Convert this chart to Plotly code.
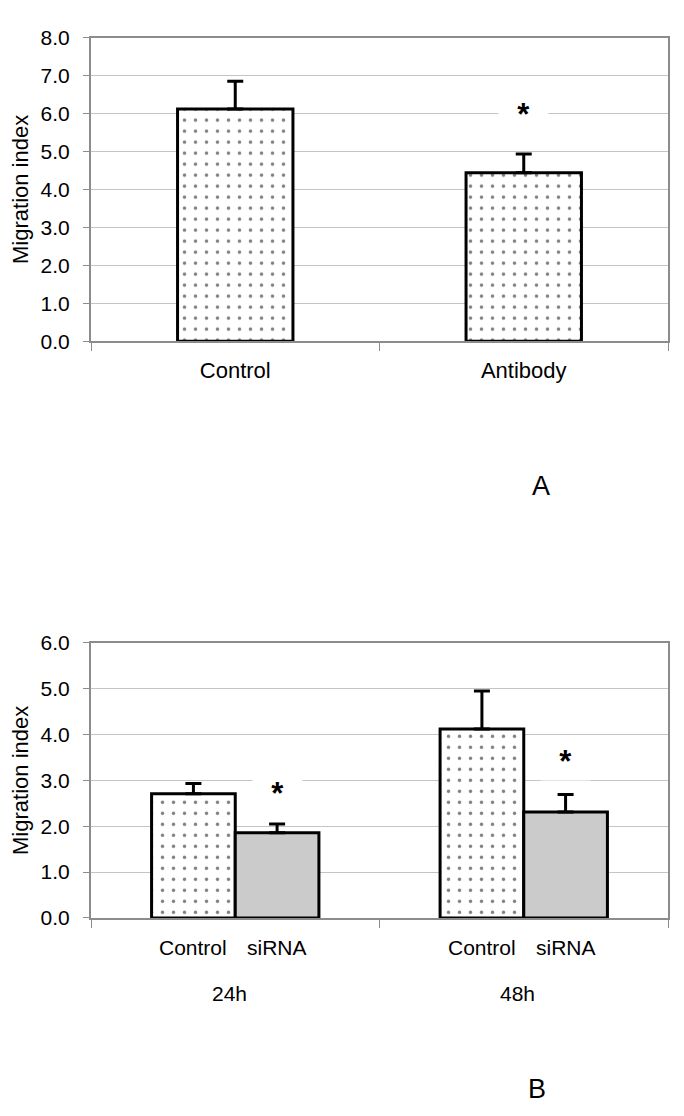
import plotly.graph_objects as go

# panel A
cats_a = ["Control", "Antibody"]
vals_a = [6.12, 4.44]
err_a = [0.73, 0.49]
star_a = [None, 6.06]

# panel B
groups_b = ["24h", "48h"]
ctrl_b = [2.71, 4.12]
ctrl_err_b = [0.22, 0.83]
sirna_b = [1.86, 2.31]
sirna_err_b = [0.19, 0.38]
star_b = [2.79, 3.47]
bar_labels_b = ["Control", "siRNA"]

FONT = "Liberation Sans, Arial, sans-serif"
OFF = 8  # default page margin of the html body
W, H = 684 - OFF, 1116 - OFF
L, R = 91 - OFF, 684 - 668

dots = dict(shape=".", size=11, solidity=0.08, fgcolor="black", bgcolor="white", fillmode="overlay")


def ydom(top_px, bot_px):
    # pixel rows of the reference window -> paper fractions
    return [(H - (bot_px - OFF)) / H, (H - (top_px - OFF)) / H]


def px_paper(xp, yp):
    return (xp - 91) / (668 - 91), (H - (yp - OFF)) / H


fig = go.Figure()

fig.add_trace(go.Bar(
    x=cats_a, y=vals_a, width=0.4,
    marker=dict(color="white", pattern=dots, line=dict(color="black", width=3)),
    error_y=dict(type="data", array=err_a, arrayminus=[0, 0], symmetric=False,
                 color="black", thickness=3, width=8),
    xaxis="x", yaxis="y", showlegend=False,
))

fig.add_trace(go.Bar(
    x=groups_b, y=ctrl_b, name="Control",
    marker=dict(color="white", pattern=dots, line=dict(color="black", width=3)),
    error_y=dict(type="data", array=ctrl_err_b, arrayminus=[0, 0], symmetric=False,
                 color="black", thickness=3, width=8),
    xaxis="x2", yaxis="y2", showlegend=False, offsetgroup="c",
))
fig.add_trace(go.Bar(
    x=groups_b, y=sirna_b, name="siRNA",
    marker=dict(color="#cbcbcb", line=dict(color="black", width=3)),
    error_y=dict(type="data", array=sirna_err_b, arrayminus=[0, 0], symmetric=False,
                 color="black", thickness=3, width=8),
    xaxis="x2", yaxis="y2", showlegend=False, offsetgroup="s",
))

axis_common = dict(showline=True, linecolor="#8c8c8c", linewidth=2, mirror=True)
yax_common = dict(
    tickformat=".1f", dtick=1, ticks="outside", ticklen=6, tickcolor="#8c8c8c",
    showgrid=True, gridcolor="#c4c4c4", gridwidth=1, zeroline=False,
    tickfont=dict(family=FONT, size=21, color="black"), ticklabelstandoff=9,
    title=dict(text="Migration index", font=dict(family=FONT, size=22, color="black"), standoff=10),
    **axis_common,
)
xax_common = dict(
    type="category", tickson="boundaries", ticks="outside", ticklen=8, tickcolor="#8c8c8c",
    showgrid=False, tickfont=dict(family=FONT, size=22, color="black"),
    **axis_common,
)

fig.update_layout(
    width=W, height=H,
    margin=dict(l=L, r=R, t=0, b=0),
    paper_bgcolor="white", plot_bgcolor="white",
    barmode="group", bargap=0.42, bargroupgap=0,
    xaxis=dict(domain=[0, 1], anchor="y", ticklabelstandoff=8, **xax_common),
    yaxis=dict(domain=ydom(26, 336), anchor="x", range=[0, 8], **yax_common),
    xaxis2=dict(domain=[0, 1], anchor="y2", showticklabels=False, **xax_common),
    yaxis2=dict(domain=ydom(644, 925), anchor="x2", range=[0, 6], **yax_common),
    font=dict(family=FONT, color="black"),
)

star_txt = "<b>\u00a0\u00a0*\u00a0\u00a0</b>"
for c, s in zip(cats_a, star_a):
    if s is not None:
        fig.add_annotation(x=c, y=s, xref="x", yref="y", text=star_txt, showarrow=False,
                           bgcolor="white", font=dict(family=FONT, size=31), yshift=-3)
for g, s in zip(groups_b, star_b):
    fig.add_annotation(x=g, y=s, xref="x2", yref="y2", text=star_txt, showarrow=False,
                       bgcolor="white", font=dict(family=FONT, size=31), xshift=42, yshift=-3)

for g in groups_b:
    for lab, dx in zip(bar_labels_b, [-42, 42]):
        fig.add_annotation(x=g, y=0, xref="x2", yref="y2", text=lab, showarrow=False,
                           font=dict(family=FONT, size=21), xshift=dx, yshift=-30)
    fig.add_annotation(x=g, y=0, xref="x2", yref="y2", text=g, showarrow=False,
                       font=dict(family=FONT, size=21), xshift=-6, yshift=-76)

for lab, (xp, yp) in zip(["A", "B"], [(541, 484), (537, 1100)]):
    px_x, px_y = px_paper(xp, yp)
    fig.add_annotation(x=px_x, y=px_y, xref="paper", yref="paper", xanchor="center", yanchor="middle",
                       text=lab, showarrow=False, font=dict(family=FONT, size=27))

fig.write_html("out.html")
